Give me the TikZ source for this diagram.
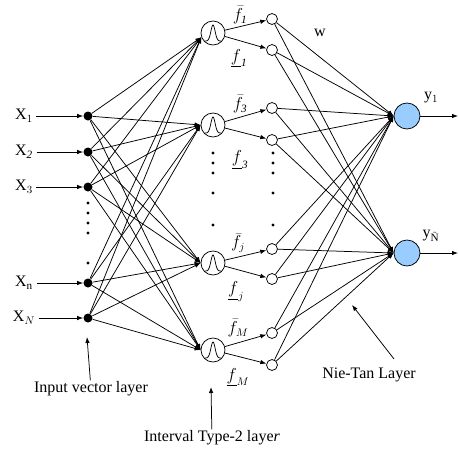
\documentclass[tikz,border=0pt]{standalone}
\usepackage{fontspec}
\setmainfont{Liberation Serif}
\usetikzlibrary{arrows.meta,positioning}
\definecolor{outblue}{RGB}{153,204,255}

\tikzstyle{inp}=[circle,fill=black,inner sep=0pt,minimum size=9pt]
\tikzstyle{mf}=[circle,draw,inner sep=0pt,minimum size=24pt,
                path picture={\draw[shift={(path picture bounding box.center)}]
                plot[domain=-8:8,samples=50,smooth] (\x,{8-16*exp(-\x*\x/9)});}]
\tikzstyle{fr}=[circle,draw,inner sep=0pt,minimum size=11pt]
\tikzstyle{outp}=[circle,draw,fill=outblue,inner sep=0pt,minimum size=26pt]
\tikzstyle{aS}=[every edge/.style={draw,-{Latex[length=6pt,width=4.5pt]}}]
\tikzstyle{hit}=[-{Latex[length=6pt,width=4.5pt]}]
\tikzstyle{lbl}=[inner sep=1pt]

\begin{document}
\begin{tikzpicture}[x=1pt,y=-1pt,line width=0.75pt,font=\fontsize{16}{18}\selectfont]
  \useasboundingbox (0,0) rectangle (459,453);
  % input layer
  \node[inp] (in1) at (88,116) {};
  \node[inp] (in2) at (88,152) {};
  \node[inp] (in3) at (88,187) {};
  \node[inp] (inn) at (88,283) {};
  \node[inp] (inN) at (88,318) {};
  \node (x1) at (24,116) {X$_1$};
  \node (x2) at (24,152) {X$_{\mathit{2}}$};
  \node (x3) at (24,187) {X$_3$};
  \node (xn) at (24,283) {X$_\mathrm{n}$};
  \node (xN) at (24,318) {X$_N$};
  \draw[hit] (x1) -- (in1);
  \draw[hit] (x2) -- (in2);
  \draw[hit] (x3) -- (in3);
  \draw[hit] (xn) -- (inn);
  \draw[hit] (xN) -- (inN);

  % interval type-2 layer
  \node[mf] (g1) at (213,33) {};
  \node[mf] (g3) at (213,125) {};
  \node[mf] (gj) at (213,263) {};
  \node[mf] (gM) at (213,350) {};
  \node[fr] (a1) at (272,19) {};
  \node[fr] (b1) at (272,50) {};
  \node[fr] (a3) at (272,108) {};
  \node[fr] (b3) at (272,140) {};
  \node[fr] (aj) at (272,249) {};
  \node[fr] (bj) at (272,279) {};
  \node[fr] (aM) at (272,333) {};
  \node[fr] (bM) at (272,365) {};

  % output layer
  \node[outp] (o1) at (407,116) {};
  \node[outp] (o2) at (407,253) {};
  \coordinate (e1) at (458,116);
  \coordinate (e2) at (458,253);
  \draw[hit] (o1) -- (e1);
  \draw[hit] (o2) -- (e2);

  \path[aS] (in1) edge (g1.200) edge (g3.west) edge (gj.west) edge (gM.west);
  \path[aS] (in2) edge (g1.200) edge (g3.west) edge (gj.west) edge (gM.west);
  \path[aS] (in3) edge (g1.200) edge (g3.west) edge (gj.west) edge (gM.west);
  \path[aS] (inn) edge (g1.200) edge (g3.west) edge (gj.west) edge (gM.west);
  \path[aS] (inN) edge (g1.200) edge (g3.west) edge (gj.west) edge (gM.west);

  \path[aS] (g1) edge (a1) edge (b1);
  \path[aS] (g3) edge (a3) edge (b3);
  \path[aS] (gj) edge (aj) edge (bj);
  \path[aS] (gM) edge (aM) edge (bM);

  \path[aS] (a1) edge (o1.west) edge (o2.west);
  \path[aS] (b1) edge (o1.west) edge (o2.west);
  \path[aS] (a3) edge (o1.west) edge (o2.west);
  \path[aS] (b3) edge (o1.west) edge (o2.west);
  \path[aS] (aj) edge (o1.west) edge (o2.west);
  \path[aS] (bj) edge (o1.west) edge (o2.west);
  \path[aS] (aM) edge (o1.west) edge (o2.west);
  \path[aS] (bM) edge (o1.west) edge (o2.west);

  % dots
  \foreach \y in {203,213,223,233,263} \fill (88,\y) circle (1.7pt);
  \foreach \y in {153,163,173,193,225} {
    \fill (213,\y) circle (1.6pt);
    \fill (273,\y) circle (1.6pt);
  }

  % labels
  \node[lbl] (lfa1) at (240,15) {$\bar{f}_{\mathit{1}}$};
  \node[lbl] (lfb1) at (239,58) {$\underline{f}_{\mathit{1}}$};
  \node[lbl] (lfa3) at (240,104) {$\bar{f}_{\mathit{3}}$};
  \node[lbl] (lfb3) at (240,160) {$\underline{f}_{\mathit{3}}$};
  \node[lbl] (lfaj) at (238,243) {$\bar{f}_j$};
  \node[lbl] (lfbj) at (236,292) {$\underline{f}_j$};
  \node[lbl] (lfaM) at (238,328) {$\bar{f}_M$};
  \node[lbl] (lfbM) at (238,377) {$\underline{f}_M$};
  \node[lbl] (w) at (320,33) {w};
  \node[lbl] (ly1) at (431,98) {y$_1$};
  \node[lbl] (ly2) at (431,236) {y$_{\tilde{\mathrm{N}}}$};

  \node[lbl] (lin) at (91,389) {Input vector layer};
  \coordinate (lin-t) at (87,337);
  \draw[hit] (lin) -- (lin-t);
  \node[lbl] (lit) at (212,438) {Interval Type-2 laye\textit{r}};
  \coordinate (lit-t) at (211,387);
  \draw[hit] (lit) -- (lit-t);
  \node[lbl] (lnt) at (369,375) {Nie-Tan Layer};
  \coordinate (lnt-s) at (394,359);
  \coordinate (lnt-t) at (352,305);
  \draw[hit] (lnt-s) -- (lnt-t);
\end{tikzpicture}
\end{document}
